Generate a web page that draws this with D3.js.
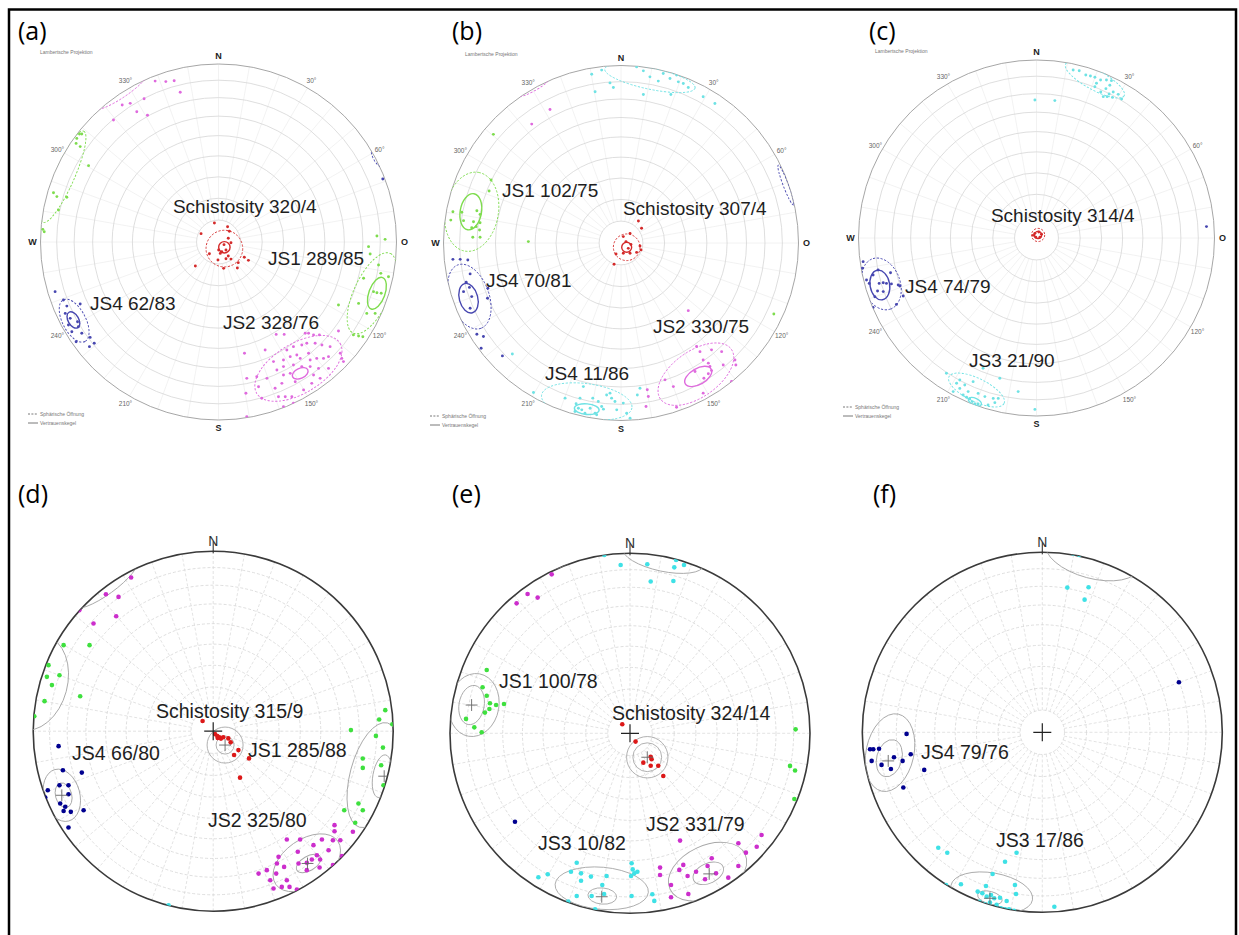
<!DOCTYPE html>
<html><head><meta charset="utf-8">
<script src="https://cdn.jsdelivr.net/npm/d3@7"></script>
<style>html,body{margin:0;padding:0;background:#fff}</style>
</head><body><svg id="chart" width="1239" height="935"></svg>
<script>
// ---------- DATA (pole positions in projection units: x east, y north, -100..100 of primitive circle) ----------
// Panel (a)
const aSch = [[-2.3,10.7],[5.1,8.6],[-9.8,4.7],[6.1,6.0],[5.5,2.1],[7.0,-0.4],[3.1,-1.5],[4.2,-4.5],[1.8,-5.4],[0.1,-4.5],[-5.1,-6.6],[4.2,-9.4],[-0.3,-10.1],[7.0,-9.6],[14.5,-8.6],[16.8,-10.3],[11.1,-11.6],[2.9,-14.8],[10.6,-14.6],[-13.0,-13.5],[1.0,-6.4],[5.5,-7.9]];
const aJS1 = [[-78.1,60.7],[-79.6,58.2],[-80.0,55.4],[-77.7,53.6],[-76.8,60.7],[-73.0,42.9],[-92.7,27.7],[-90.8,25.5],[-85.2,25.1],[-89.9,18.0],[-98.7,7.1],[-97.9,5.8],
  [89.0,3.4],[93.6,1.5],[84.3,-2.6],[85.2,-6.7],[89.9,-12.9],[91.2,-17.6],[95.5,-19.5],[81.5,-20.4],[87.1,-27.9],[89.0,-28.5],[91.4,-28.8],[78.7,-34.5],[67.4,-35.4],[83.3,-40.1],[88.0,-40.1],[75.8,-52.2],[78.7,-52.8],[81.1,-53.2]];
const aJS2 = [[-35.6,90.4],[-29.6,90.1],[-24.9,90.6],[-21.5,84.1],[-41.8,80.5],[-54.1,77.0],[-49.6,77.9],[-45.9,73.2],[-59.0,68.5],[-39.9,71.2],
  [32.4,-51.9],[36.9,-51.9],[48.7,-51.3],[50.6,-51.3],[53.4,-52.2],[56.7,-52.2],[67.4,-50.0],[26.2,-60.7],[14.6,-62.5],[38.4,-60.7],[42.1,-58.8],[46.8,-57.9],[49.6,-56.9],[54.3,-56.9],[58.1,-57.9],[62.7,-58.8],[68.4,-62.5],[69.3,-65.4],[70.2,-67.2],[30.9,-67.2],[36.5,-66.3],[40.3,-64.4],[44.0,-63.5],[45.9,-65.4],[50.6,-62.5],[51.5,-66.3],[55.2,-65.4],[59.0,-65.4],[61.8,-64.4],[36.5,-70.0],[42.1,-69.1],[46.8,-70.0],[51.5,-70.0],[56.2,-71.0],[61.8,-71.0],[21.5,-75.7],[27.2,-76.6],[32.8,-71.9],[36.5,-74.7],[40.3,-73.8],[53.4,-74.7],[57.1,-76.6],[22.5,-81.3],[31.8,-82.2],[35.6,-79.4],[43.1,-78.5],[52.4,-79.4],[15.9,-76.6],[15.4,-85.0],[24.3,-87.8],[33.7,-86.9],[37.5,-86.9],[41.2,-86.9],[47.8,-83.1],[36.5,-92.5],[42.1,-90.6],[15.9,-98.1]];
const aJS4 = [[-91.8,-27.9],[-87.1,-32.6],[-85.2,-36.0],[-77.7,-34.8],[-86.1,-40.1],[-83.3,-42.9],[-79.2,-44.8],[-84.3,-46.6],[-78.7,-47.6],[-82.4,-50.4],[-76.8,-51.3],[-80.0,-56.0],[-72.1,-53.6],[-69.8,-56.9],[-72.5,-58.8],[92.3,35.4]];
// ellipses: [cx, cy, rx, ry, angle°, dashed(1)/solid(0)]
const aSchCones = [[3.3,-3.7,10.3,10.3,0,1],[3.3,-3.0,3.2,3.2,0,0]];
const aJS1Cones = [[86.1,-28.8,24.7,10,65,1],[-87.1,36.7,28,6,66,1],[89,-28.8,9.4,4.5,70,0]];
const aJS2Cones = [[44.9,-71,27.3,14,31,1],[-55,85,18,4,34,1],[45.9,-73.8,4.7,2.8,25,0]];
const aJS4Cones = [[-81.1,-44.2,13.2,6.5,-62.5,1],[-81.5,-43.8,5,3,-60,0],[88.6,47,5,1.5,-61,1]];
const aLabels = [["Schistosity 320/4",-25.6,16.3],["JS1 289/85",27.8,-12.9],["JS4 62/83",-72.2,-38.2],["JS2 328/76",2.5,-48.9]];

// Panel (b)
const bSch = [[9.8,12.4],[11.6,8.3],[5.1,5.4],[1.3,3.6],[2.8,0.8],[5.6,-0.8],[11.3,-3.9],[8.8,-5.3],[5.1,-5.8],[1.3,-5.8],[-2.8,-6.2],[-3.9,-12.0],[10.7,-1.7],[4.1,-3.0]];
const bJS1 = [[-73.2,35.5],[-74.3,29.3],[-94.7,17.6],[-89.7,17.3],[-81.2,18.2],[-79.4,16.1],[-95.9,12.9],[-88.7,12.6],[-83.1,12.0],[-79.4,11.4],[-84.1,8.6],[-81.6,9.2],[-79.7,7.3],[-83.5,3.2],[-79.4,3.2],[-71.9,61.2],[-52.2,0.8],[86.1,-40.0]];
const bJS4 = [[-94.7,-9.2],[-90.6,-9.2],[-86.3,-9.6],[-85.0,-17.4],[-87.2,-22.1],[-85.4,-25.0],[-88.7,-27.4],[-84.1,-30.2],[-85.0,-36.8],[-75.2,-31.1],[-75.0,-25.5],[-81.2,-51.4],[-77.5,-52.7],[-78.8,-59.3],[-66.8,-63.6]];
const bJS2 = [[37.9,-38.1],[42.6,-58.3],[44.5,-61.2],[51.0,-60.2],[56.7,-61.2],[46.3,-65.9],[49.2,-67.7],[50.1,-69.6],[51.0,-71.9],[49.2,-73.7],[46.7,-76.2],[41.7,-72.4],[24.8,-77.1],[29.5,-80.9],[46.3,-84.6],[14.8,-82.7],[15.4,-86.5],[14.1,-92.1],[31.3,-92.5],[57.6,-68.7],[64.2,-65.9],[62.3,-78.0],[64.7,-68.7],[-40.0,75.2],[-50.3,67.0]];
const bJS3 = [[-16.5,95.1],[-10.9,97.4],[-6.2,90.2],[-4.3,87.6],[-14.6,85.2],[8.8,99.2],[12.6,97.0],[16.3,93.6],[21.0,91.2],[23.8,95.5],[27.6,92.7],[31.3,94.6],[32.3,90.8],[35.1,89.9],[37.9,87.6],[28.1,83.7],[12.6,83.7],[46.3,82.4],[52.9,78.6],
  [-61.2,-62.5],[-49.3,-84.2],[-46.5,-89.3],[-31.5,-87.4],[-23.1,-87.4],[-21.2,-80.9],[-22.1,-94.0],[-17.4,-93.1],[-15.9,-87.4],[-14.6,-95.9],[-10.9,-92.1],[-8.1,-85.6],[-6.2,-84.6],[-5.3,-87.4],[-3.4,-89.3],[-2.4,-94.0],[1.3,-90.2],[3.2,-95.9],[5.1,-98.7],[9.2,-85.6],[10.7,-81.8],[-25.3,-90.6],[-24.0,-93.1],[-20.3,-95.9],[-13.7,-96.8],[-9.9,-93.6],[-12.8,-89.3],[-25.9,-94.9]];
const bSchCones = [[3.2,-2.4,7.5,7.5,0,1],[3.2,-2.4,2.8,2.8,0,0]];
const bJS1Cones = [[-84.1,17.6,22.5,15,80,1],[-84.6,17.6,10.3,6,80,0]];
const bJS4Cones = [[-85.4,-30.2,19,11,-70,1],[-85.9,-31.1,8.5,5.2,-75,0],[92.9,32.6,12,1.5,-69,1]];
const bJS2Cones = [[42.2,-73.9,24.4,13,35,1],[43.5,-75.2,8.4,4.5,30,0],[-49.3,87.1,9,1.5,29,1]];
const bJS3Cones = [[-19.3,-89.3,25.7,10,-8,1],[-19.3,-93.6,7,3,-5,0],[16.3,92.7,26,6,-12,1]];
const bLabels = [["JS1 102/75",-67.0,25.9],["Schistosity 307/4",1.1,15.8],["JS4 70/81",-76.1,-24.8],["JS2 330/75",18.0,-50.7],["JS4 11/86",-42.8,-77.2]];

// Panel (c)
const cSch = [[-0.9,2.6],[1.3,3.4],[2.8,2.1],[1.9,0.4],[-0.4,0.4],[-1.9,1.5]];
const cJS4 = [[-97.4,-13.3],[-97.8,-17.0],[-89.0,-18.0],[-91.8,-20.8],[-95.5,-23.6],[-98.3,-25.8],[-94.0,-25.5],[-88.4,-25.5],[-86.1,-25.1],[-82.0,-19.5],[-84.3,-25.5],[-81.5,-25.8],[-77.7,-26.4],[-76.8,-27.0],[-89.3,-29.8],[-86.1,-30.1],[-74.9,-32.6],[-90.8,-33.0],[-78.7,-37.3],[-91.8,-39.0],[95.5,6.4]];
const cJS3 = [[20.6,94.4],[24.0,94.0],[27.7,91.6],[30.3,91.0],[32.8,90.3],[36.0,88.8],[39.3,88.8],[42.1,88.4],[33.7,86.9],[41.2,85.8],[32.8,85.0],[39.0,83.9],[36.1,82.0],[43.1,82.0],[40.8,80.9],[45.9,80.7],[37.5,79.4],[39.7,79.4],[42.7,79.0],[47.8,78.1],[-0.9,77.5],[10.3,77.2],
  [-50.6,-76.0],[-43.1,-79.8],[-40.3,-82.6],[-35.6,-80.7],[-30.0,-73.2],[-20.6,-78.8],[-10.3,-86.3],[-32.8,-87.3],[-29.0,-89.1],[-24.3,-90.1],[-21.5,-90.1],[-46.8,-86.3],[-41.2,-88.2],[-39.3,-89.5],[-37.5,-90.4],[-36.1,-91.9],[-34.6,-93.3],[-32.8,-93.3],[-43.1,-84.5],[-38.4,-86.3],[-44.9,-81.6],[-0.9,-96.3],[-27.2,-93.8],[-23.4,-92.5]];
const cSchCones = [[0.9,1.7,3.7,3.7,0,1],[0.9,1.7,2,2,0,0]];
const cJS4Cones = [[-87.1,-25.8,15,10.5,-70,1],[-88,-26.4,8.4,5.5,-80,0]];
const cJS3Cones = [[-33.7,-85.4,17.2,6.5,-26,1],[-34.6,-92,4,2,-25,0],[32.8,88.8,18.7,5.6,-28.5,1]];
const cLabels = [["Schistosity 314/4",-25.6,9.0],["JS4 74/79",-73.9,-30.9],["JS3 21/90",-37.9,-72.5]];

// Panel (d)
const dSch = [[-5.9,5.7],[1.0,-1.6],[2.3,-2.7],[3.4,-3.4],[4.3,-4.1],[2.5,-3.8],[8.4,-4.0],[9.7,-6.2],[14.0,-10.5],[11.6,-13.2],[19.9,-15.1],[14.9,-25.8],[5.6,-3.4]];
const dJS1 = [[-83.1,47.8],[-68.7,47.8],[-91.5,36.7],[-92.4,30.2],[-85.4,31.1],[-89.6,25.6],[-93.7,16.7],[-73.9,19.4],[-99.4,8.3],
  [95.6,11.7],[92.2,6.5],[99.5,3.9],[76.5,0.6],[90.4,-2.6],[94.3,-9.1],[83.1,-15.2],[93.3,-18.9],[83.1,-20.4],[94.6,-30.0],[80.7,-40.2],[83.1,-43.9],[72.8,-43.9],[78.9,-50.9]];
const dJS2 = [[-45.6,85.4],[-59.6,76.1],[-52.6,74.6],[-74.4,67.2],[-66.5,59.8],[-53.9,63.9],
  [40.9,-60.2],[48.3,-60.2],[55.7,-63.3],[60.4,-60.2],[67.4,-55.6],[66.5,-60.6],[70.6,-60.6],[77.6,-55.9],[36.3,-69.8],[47.0,-67.0],[57.6,-68.9],[64.1,-66.1],[35.4,-73.5],[39.4,-75.4],[47.4,-73.5],[52.0,-73.1],[54.8,-71.3],[59.4,-71.3],[59.1,-75.7],[71.5,-69.4],[66.5,-74.4],[25.2,-79.1],[29.8,-77.2],[35.0,-79.1],[52.0,-77.2],[31.7,-82.8],[40.9,-82.8],[33.5,-87.4],[38.1,-86.5],[42.4,-86.5],[46.5,-88.0],[67.4,-52.2]];
const dJS4 = [[-85.9,-8.3],[-83.5,-21.7],[-73.0,-23.0],[-85.4,-30.0],[-80.4,-30.0],[-91.9,-32.8],[-80.4,-35.0],[-93.3,-36.9],[-85.0,-40.2],[-82.2,-42.0],[-79.1,-44.8],[-83.1,-44.3],[-72.0,-43.9],[-80.4,-53.5]];
const dJS3 = [[-24.8,-96.7]];
const dSchCones = [[6.6,-7.7,10,10,0],[6.6,-7.7,5,5,0]];
const dJS1Cones = [[89.1,-24.4,30,13,75],[93.7,-25,12,5,80],[-100,27,27,19,75]];
const dJS2Cones = [[52,-73.1,21,13,35],[53,-73.5,7.5,4,30],[-60,82,22,6,36]];
const dJS4Cones = [[-84.1,-35.6,14.8,10,-75],[-83.1,-35.6,7,4.5,-75]];
const dMeans = [[6.6,-7.7],[95,-25],[52.4,-73.5],[-84.1,-35.6]];
const dLabels = [["Schistosity 315/9",-31.8,7.3],["JS4 66/80",-78.4,-16.0],["JS1 285/88",19.3,-14.3],["JS2 325/80",-2.9,-53.2]];

// Panel (e)
const eSch = [[-4.3,5.0],[3.1,-4.6],[11.5,-13.0],[12.0,-14.4],[7.4,-16.3],[11.5,-18.0],[15.7,-18.0],[18.5,-23.7]];
const eJS1 = [[-79.6,35.2],[-81.9,25.6],[-79.6,20.9],[-74.4,15.7],[-70.0,16.3],[-77.8,16.7],[-80.6,11.5],[-78.1,13.5],[-91.1,8.0],[-86.5,3.3],[-82.4,0.6],[92.0,2.2],[88.9,-18.1],[91.7,-20.7],[91.3,-36.5]];
const eJS2 = [[-43.5,88.3],[-56.9,77.4],[-51.3,75.4],[-63.0,72.2],
  [27.8,-59.6],[73.1,-56.5],[60.2,-61.1],[64.4,-66.3],[70.4,-63.0],[45.4,-69.4],[43.1,-73.7],[29.6,-73.1],[27.4,-75.9],[16.7,-74.6],[16.7,-78.7],[32.0,-79.3],[36.7,-76.9],[41.7,-81.1],[47.8,-77.8],[54.6,-80.2],[60.2,-73.7],[22.8,-84.3],[32.4,-89.3],[22.8,-91.1]];
const eJS3 = [[-14.3,99.1],[-5.2,93.5],[9.6,93.9],[25.6,96.3],[24.6,92.2],[30.0,93.5],[11.5,84.3],[24.1,84.6],
  [-50.9,-80.0],[-45.7,-78.3],[-32.8,-76.9],[-29.6,-71.9],[-27.2,-77.8],[-21.7,-79.6],[-13.0,-79.3],[-27.2,-81.9],[-15.4,-84.3],[-29.6,-90.4],[-21.3,-90.4],[-14.4,-89.3],[0.9,-72.2],[1.5,-75.6],[2.4,-77.8],[4.1,-76.9],[0.6,-79.3],[0.9,-90.4],[12.4,-89.4],[13.5,-93.1],[-34.3,-93.5],[-19.4,-97.8]];
const eJS4 = [[-63.9,-49.1]];
const eSchCones = [[9.6,-13.3,11.5,11.5,0],[9.6,-13.3,8,8,0]];
const eJS1Cones = [[-86.7,15.7,17.6,13.9,80],[-88,15.7,11,7,80],[100,-28,22,2,80]];
const eJS2Cones = [[43.1,-76.9,23,14.5,25],[43.5,-77.8,9,5.5,25],[-40,96,12,4,22]];
const eJS3Cones = [[-15.7,-86.1,26,11.7,-5],[-15.4,-90.4,8,4.5,-5],[18.5,98,23,8,-12]];
const eMeans = [[9.6,-13.3],[-88,15.7],[44,-78.1],[-15.7,-90.8]];
const eLabels = [["JS1 100/78",-72.8,25.2],["Schistosity 324/14",-10.0,7.4],["JS2 331/79",8.9,-54.3],["JS3 10/82",-51.1,-64.8]];

// Panel (f)
const fJS4 = [[75.9,27.8],[-75.4,-0.9],[-95.7,-9.4],[-93.9,-9.4],[-90.7,-9.1],[-94.8,-15.9],[-89.3,-18.1],[-82.4,-13.9],[-84.1,-20.4],[-77.6,-15.9],[-73.1,-12.2],[-65.6,-20.9],[-77.2,-30.7]];
const fJS3 = [[17.2,99.4],[20.6,98.5],[13.9,80.4],[25.7,80.6],[23.5,73.7],
  [-57.8,-64.1],[-52.8,-66.9],[-14.3,-66.9],[-20.7,-71.9],[-27.6,-78.7],[-53.5,-84.8],[-45.2,-84.4],[-35.9,-88.5],[-31.3,-85.4],[-33.3,-89.4],[-30.9,-91.3],[-28.5,-90.4],[-26.7,-92.2],[-23.5,-91.9],[-19.8,-93.7],[-15.2,-84.8],[-14.6,-89.8],[-35.0,-94.1],[-32.2,-95.4],[-29.1,-94.6],[-25.4,-95.9],[-23.0,-97.8],[-20.7,-98.3],[-18.5,-98.3],[-15.7,-99.1],[6.7,-96.9]];
const fJS4Cones = [[-84.6,-11.3,21.9,13.3,78],[-85,-14.4,10.5,7,75]];
const fJS3Cones = [[-28.1,-89.1,23,11,-10],[-29.1,-91.9,7,3.5,-15],[28,98.5,27,13,-15]];
const fMeans = [[-85.6,-15.9],[-29.1,-92.2]];
const fLabels = [["JS4 79/76",-67.4,-14.8],["JS3 17/86",-25.7,-63.7]];

const panelTags = ["(a)","(b)","(c)","(d)","(e)","(f)"];
const degreeTicks = [30,60,120,150,210,240,300,330];
const cardinals = [["N",0],["O",90],["S",180],["W",270]];
const legendItems = [["Sphärische Öffnung",1],["Vertrauenskegel",0]];

// ---------- LAYOUT ----------
const topCol = {red:"#d42a2a", green:"#7edc4e", magenta:"#df6ade", cyan:"#6fe2e4", blue:"#4747b0"};
const botCol = {red:"#dc1818", green:"#3ee03e", magenta:"#cc2ecc", cyan:"#3fe1e6", blue:"#00008f"};
const panels = [
  {tag:0, cx:218.5, cy:242, R:178, lam:true, tagX:18, tagY:40, projX:40, projY:54, legX:28, legY:414,
    sets:[["magenta",aJS2,aJS2Cones],["green",aJS1,aJS1Cones],["blue",aJS4,aJS4Cones],["red",aSch,aSchCones]], labels:aLabels},
  {tag:1, cx:621, cy:243, R:177.5, lam:true, tagX:452, tagY:40, projX:465, projY:56, legX:430, legY:416,
    sets:[["cyan",bJS3,bJS3Cones],["magenta",bJS2,bJS2Cones],["green",bJS1,bJS1Cones],["blue",bJS4,bJS4Cones],["red",bSch,bSchCones]], labels:bLabels},
  {tag:2, cx:1036.5, cy:238, R:178, lam:true, tagX:869, tagY:40, projX:875, projY:53, legX:843, legY:407,
    sets:[["cyan",cJS3,cJS3Cones],["blue",cJS4,cJS4Cones],["red",cSch,cSchCones]], labels:cLabels},
  {tag:3, cx:213.2, cy:731.2, R:180, lam:false, tagX:18, tagY:503,
    sets:[["cyan",dJS3,[]],["magenta",dJS2,dJS2Cones],["green",dJS1,dJS1Cones],["blue",dJS4,dJS4Cones],["red",dSch,dSchCones]], means:dMeans, labels:dLabels},
  {tag:4, cx:630, cy:733.3, R:180, lam:false, tagX:452, tagY:503,
    sets:[["cyan",eJS3,eJS3Cones],["magenta",eJS2,eJS2Cones],["green",eJS1,eJS1Cones],["blue",eJS4,[]],["red",eSch,eSchCones]], means:eMeans, labels:eLabels},
  {tag:5, cx:1042.3, cy:732.3, R:180, lam:false, tagX:873, tagY:503,
    sets:[["cyan",fJS3,fJS3Cones],["blue",fJS4,fJS4Cones]], means:fMeans, labels:fLabels}
];

const svg = d3.select("#chart");
const defs = svg.append("defs");
const rad = d => d*Math.PI/180;
const FONT = "'Liberation Sans', Arial, sans-serif";

svg.append("rect").attr("width",1239).attr("height",935).attr("fill","#fff");

panels.forEach((p,i) => {
  const x = d3.scaleLinear().domain([-100,100]).range([p.cx-p.R, p.cx+p.R]);
  const y = d3.scaleLinear().domain([-100,100]).range([p.cy+p.R, p.cy-p.R]);
  const k = p.R/100;
  const g = svg.append("g");
  defs.append("clipPath").attr("id","clip"+i).append("circle").attr("cx",x(0)).attr("cy",y(0)).attr("r",p.R);

  // grid: equal-area rings every 10° and spokes every 10°
  const rings = d3.range(10,90,10).map(t => Math.SQRT2*Math.sin(rad(t/2))*100);
  const grid = g.append("g").attr("fill","none");
  grid.selectAll("line").data(d3.range(0,360,10)).join("line")
    .attr("x1",a=>x(rings[0]*Math.sin(rad(a)))).attr("y1",a=>y(rings[0]*Math.cos(rad(a))))
    .attr("x2",a=>x(100*Math.sin(rad(a)))).attr("y2",a=>y(100*Math.cos(rad(a))))
    .attr("stroke", p.lam ? "#efefef" : "#dcdcdc").attr("stroke-width",0.8)
    .attr("stroke-dasharray", p.lam ? null : "3,2");
  grid.selectAll("circle").data(rings).join("circle")
    .attr("cx",x(0)).attr("cy",y(0)).attr("r",d=>d*k)
    .attr("stroke", p.lam ? "#d6d6d6" : "#d6d6d6").attr("stroke-width",0.8)
    .attr("stroke-dasharray", p.lam ? null : "3,2");

  // primitive circle
  g.append("circle").attr("cx",x(0)).attr("cy",y(0)).attr("r",p.R).attr("fill","none")
    .attr("stroke", p.lam ? "#9c9c9c" : "#3a3a3a").attr("stroke-width", p.lam ? 0.9 : 1.6);

  const cont = g.append("g").attr("clip-path","url(#clip"+i+")");
  const cols = p.lam ? topCol : botCol;

  // cones / ellipses
  p.sets.forEach(([c, pts, cones]) => {
    cont.selectAll(null).data(cones).join("ellipse")
      .attr("cx",0).attr("cy",0).attr("rx",d=>d[2]*k).attr("ry",d=>d[3]*k)
      .attr("transform",d=>`translate(${x(d[0])},${y(d[1])}) rotate(${-d[4]})`)
      .attr("fill","none")
      .attr("stroke", p.lam ? cols[c] : "#a8a8a8")
      .attr("stroke-width", d => p.lam ? (d[5] ? 0.9 : 1.4) : 0.9)
      .attr("stroke-dasharray", d => (p.lam && d[5]) ? "2.2,1.6" : null);
  });
  // points
  p.sets.forEach(([c, pts]) => {
    cont.selectAll(null).data(pts).join("circle")
      .attr("cx",d=>x(d[0])).attr("cy",d=>y(d[1]))
      .attr("r", p.lam ? 1.45 : 2.3).attr("fill", cols[c]);
  });

  if (!p.lam) {
    // centre cross
    const cs = 5;
    g.append("path").attr("d",`M${x(-cs)},${y(0)}H${x(cs)}M${x(0)},${y(-cs)}V${y(cs)}`)
      .attr("stroke","#222").attr("stroke-width",1.2);
    // mean crosses
    const ms = 3.3;
    cont.selectAll(null).data(p.means).join("path")
      .attr("d",d=>`M${x(d[0]-ms)},${y(d[1])}H${x(d[0]+ms)}M${x(d[0])},${y(d[1]-ms)}V${y(d[1]+ms)}`)
      .attr("stroke","#666").attr("stroke-width",0.9);
    // north tick and label
    g.append("line").attr("x1",x(0)).attr("x2",x(0)).attr("y1",y(100)-10).attr("y2",y(100)+2)
      .attr("stroke","#333").attr("stroke-width",1.1);
    g.append("text").attr("x",x(0)).attr("y",y(100)-5).attr("text-anchor","middle")
      .attr("font-family",FONT).attr("font-size",14).attr("fill","#333").text("N");
  } else {
    const off = 100 + 8/k;
    g.selectAll(null).data(degreeTicks).join("text")
      .attr("x",a=>x(off*Math.sin(rad(a)))).attr("y",a=>y(off*Math.cos(rad(a))))
      .attr("text-anchor","middle").attr("dominant-baseline","central")
      .attr("font-family",FONT).attr("font-size",6.5).attr("fill","#666").text(a=>a+"°");
    g.selectAll(null).data(cardinals).join("text")
      .attr("x",d=>x(off*Math.sin(rad(d[1])))).attr("y",d=>y(off*Math.cos(rad(d[1]))))
      .attr("text-anchor","middle").attr("dominant-baseline","central")
      .attr("font-family",FONT).attr("font-size",9).attr("font-weight","bold").attr("fill","#222").text(d=>d[0]);
    g.append("text").attr("x",p.projX).attr("y",p.projY).attr("font-family",FONT)
      .attr("font-size",5).attr("fill","#777").text("Lambertsche Projektion");
    const leg = g.append("g").attr("transform",`translate(${p.legX},${p.legY})`);
    leg.selectAll(null).data(legendItems).join("line")
      .attr("x1",0).attr("x2",10).attr("y1",(d,j)=>j*9).attr("y2",(d,j)=>j*9)
      .attr("stroke","#555").attr("stroke-width",0.8).attr("stroke-dasharray",d=>d[1]?"2,1.4":null);
    leg.selectAll(null).data(legendItems).join("text")
      .attr("x",12).attr("y",(d,j)=>j*9+1.8).attr("font-family",FONT).attr("font-size",5)
      .attr("fill","#777").text(d=>d[0]);
  }

  // annotation labels
  g.selectAll(null).data(p.labels).join("text")
    .attr("x",d=>x(d[1])).attr("y",d=>y(d[2]))
    .attr("font-family",FONT).attr("font-size", p.lam ? 19 : 19.5).attr("fill","#1e1e1e").text(d=>d[0]);

  // panel tag
  svg.append("text").attr("x",p.tagX).attr("y",p.tagY).attr("font-family","'Open Sans', 'Noto Sans', sans-serif")
    .attr("font-size",25).attr("fill","#000").text(panelTags[p.tag]);
});

// outer frame (top, left, right)
svg.append("path").attr("d","M9,936V9.5H1236V936").attr("fill","none").attr("stroke","#000").attr("stroke-width",2.5);
</script></body></html>
